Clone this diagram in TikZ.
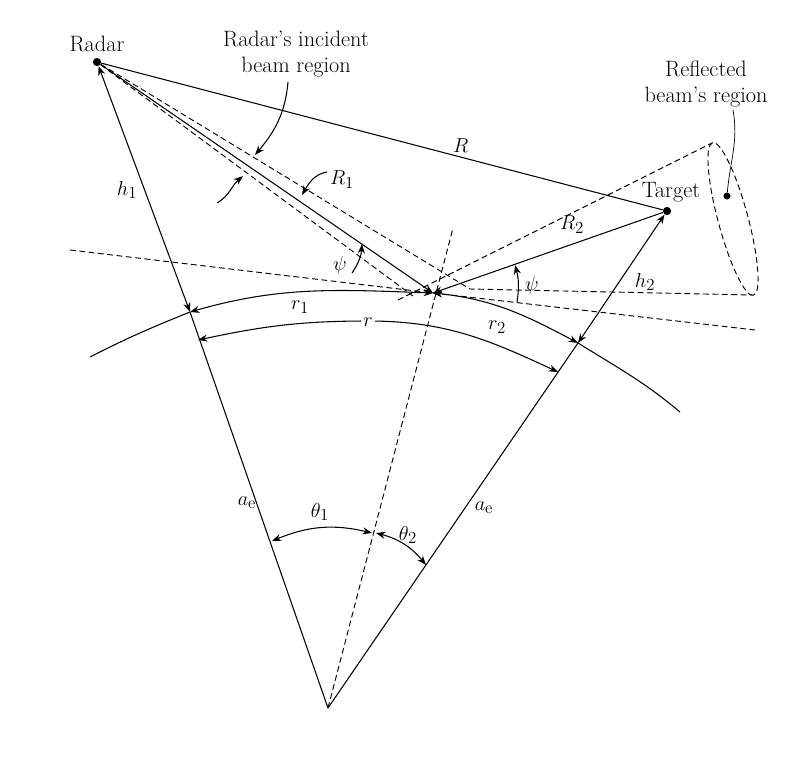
\documentclass[tikz,border=0pt]{standalone}
\usetikzlibrary{arrows.meta}
\begin{document}
\begin{tikzpicture}[x=0.03cm,y=-0.03cm,font=\fontsize{19}{22}\selectfont,
  ln/.style={line width=0.9pt},
  dsh/.style={line width=0.8pt,dash pattern=on 5pt off 3pt},
  ar/.style={ln,-{Stealth[length=8pt,width=6pt]}},
  dar/.style={ln,{Stealth[length=8pt,width=6pt]}-{Stealth[length=8pt,width=6pt]}},
  dot/.style={circle,fill,inner sep=0pt,minimum size=7pt}]
\useasboundingbox (0,0) rectangle (798,782);
\coordinate (C) at (328,708);
\coordinate (P) at (433,293);
\coordinate (F1) at (190,312);
\coordinate (F2) at (578,343);
\node[dot] (radar) at (97,62) {};
\node[dot] (target) at (667,211) {};
\node (radarl) at (97,44) {Radar};
\node (targetl) at (671,192) {Target};
% dashed lines
\draw[dsh] (70,250) -- (P) -- (755,330);
\draw[dsh] (C) -- (453,228);
\draw[dsh] (radar) -- (470,289) -- (752,295);
\draw[dsh] (radar) -- (413,296);
\draw[dsh] (398,300) -- (712,143);
\draw[dsh,rotate around={-75:(733,219)}] (733,219) ellipse (79 and 15);
\node[dot,minimum size=6pt] (refl) at (727,196) {};
% earth
\draw[ln] (90,357) to[out=27,in=-158] (F1);
\draw[dar] (F1) to[out=16,in=178] (P);
\draw[dar] (P) to[out=-6,in=152] (F2);
\draw[ln] (F2) to[out=-32,in=140] (680,412);
\draw[dar] (198,340) to[out=12,in=180] (368,321) to[out=0,in=155] (558,372);
\node[fill=white,inner sep=2pt] (rl) at (368,322) {$r$};
\node (r1) at (300,307) {$r_1$};
\node (r2) at (497,327) {$r_2$};
% solid lines
\draw[ln] (radar) -- (target) node[pos=0.64,above] {$R$};
\draw[ar] (radar) -- (P);
\draw[ar] (target) -- (P);
\node (R2) at (572,225) {$R_2$};
\draw[dar] (radar) -- (F1);
\draw[dar] (target) -- (F2);
\node (h1) at (127,190) {$h_1$};
\node (h2) at (645,282) {$h_2$};
\draw[ln] (C) -- (F1);
\draw[ln] (C) -- (F2);
\node (ae1) at (247,503) {$a_{\mathrm{e}}$};
\node (ae2) at (484,508) {$a_{\mathrm{e}}$};
\draw[dar] (272,541) to[bend left=18] (372,533);
\draw[dar] (376,533) to[bend left=18] (426,565);
\node (t1) at (320,512) {$\theta_1$};
\node (t2) at (408,535) {$\theta_2$};
% annotations
\node[align=center] (beam) at (296,54) {Radar's incident\\beam region};
\draw[ar] (288,82) to[out=-95,in=50] (255,155);
\draw[ar] (217,203) to[out=30,in=-140] (243,176);
\node (R1) at (342,180) {$R_1$};
\draw[ar] (327,172) to[out=190,in=60] (302,195);
\node (psi1) at (340,265) {$\psi$};
\draw[ar] (352,273) to[bend right=15] (362,244);
\node (psi2) at (532,285) {$\psi$};
\draw[ar] (517,302) to[bend right=12] (515,265);
\node[align=center] (reflbl) at (706,84) {Reflected\\beam's region};
\draw[line width=0.6pt] (733,110) to[out=-80,in=85] (refl);
\end{tikzpicture}
\end{document}
